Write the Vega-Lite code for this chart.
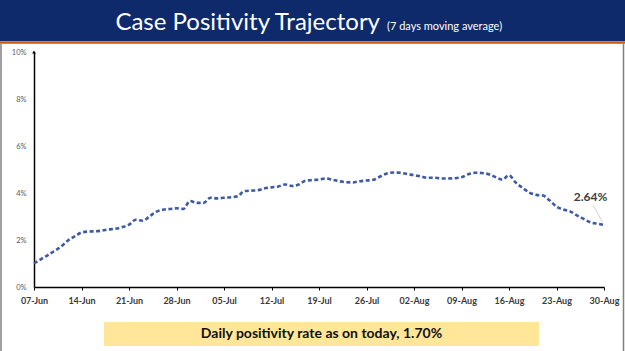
{
  "$schema": "https://vega.github.io/schema/vega-lite/v6.json",
  "autosize": "none",
  "width": 570,
  "height": 235,
  "padding": {"left": 34, "top": 52, "right": 21, "bottom": 64},
  "background": "#ffffff",
  "config": {"view": {"stroke": null}},
  "layer": [
    {
      "data": {"values": [{"title": "Case Positivity Trajectory", "sub": "(7 days moving average)"}]},
      "mark": {"type": "rect", "color": "#0E2A6B"},
      "encoding": {"x": {"value": -34}, "x2": {"value": 591}, "y": {"value": -52}, "y2": {"value": -11}}
    },
    {
      "data": {"values": [{"title": "Case Positivity Trajectory"}]},
      "mark": {"type": "rule", "color": "#C55A11", "strokeWidth": 2.5},
      "encoding": {"x": {"value": -34}, "x2": {"value": 591}, "y": {"value": -9.5}}
    },
    {
      "data": {"values": [{"title": "frame"}]},
      "mark": {"type": "rule", "color": "#808080", "strokeWidth": 1.5},
      "encoding": {"x": {"value": -33}, "y": {"value": -8}, "y2": {"value": 299}}
    },
    {
      "data": {"values": [{"title": "frame"}]},
      "mark": {"type": "rule", "color": "#808080", "strokeWidth": 1.5},
      "encoding": {"x": {"value": 589.5}, "y": {"value": -8}, "y2": {"value": 299}}
    },
    {
      "data": {"values": [{"title": "Case Positivity Trajectory"}]},
      "mark": {"type": "text", "align": "right", "baseline": "alphabetic", "font": "Lato", "fontSize": 24, "color": "#ffffff"},
      "encoding": {"text": {"field": "title"}, "x": {"value": 346}, "y": {"value": -22}}
    },
    {
      "data": {"values": [{"sub": "(7 days moving average)"}]},
      "mark": {"type": "text", "align": "left", "baseline": "alphabetic", "font": "Lato", "fontSize": 11, "color": "#ffffff"},
      "encoding": {"text": {"field": "sub"}, "x": {"value": 353}, "y": {"value": -22}}
    },
    {
      "data": {"values": [{"note": "Daily positivity rate as on today, 1.70%"}]},
      "mark": {"type": "rect", "color": "#FFE699"},
      "encoding": {"x": {"value": 70}, "x2": {"value": 505}, "y": {"value": 270}, "y2": {"value": 294}}
    },
    {
      "data": {"values": [{"note": "Daily positivity rate as on today, 1.70%"}]},
      "mark": {"type": "text", "align": "center", "baseline": "middle", "font": "Lato", "fontSize": 14, "fontWeight": "bold", "color": "#111111"},
      "encoding": {"text": {"field": "note"}, "x": {"value": 287.5}, "y": {"value": 282}}
    },
    {
      "data": {
        "format": {"parse": {"date": "date:'%Y-%m-%d'"}},
        "values": [
          {"date": "2020-06-07", "rate": 1.00}, {"date": "2020-06-08", "rate": 1.18}, {"date": "2020-06-09", "rate": 1.35},
          {"date": "2020-06-10", "rate": 1.53}, {"date": "2020-06-11", "rate": 1.72}, {"date": "2020-06-12", "rate": 1.98},
          {"date": "2020-06-13", "rate": 2.15}, {"date": "2020-06-14", "rate": 2.32}, {"date": "2020-06-15", "rate": 2.36},
          {"date": "2020-06-16", "rate": 2.37}, {"date": "2020-06-17", "rate": 2.40}, {"date": "2020-06-18", "rate": 2.45},
          {"date": "2020-06-19", "rate": 2.48}, {"date": "2020-06-20", "rate": 2.55}, {"date": "2020-06-21", "rate": 2.65},
          {"date": "2020-06-22", "rate": 2.86}, {"date": "2020-06-23", "rate": 2.82}, {"date": "2020-06-24", "rate": 3.00},
          {"date": "2020-06-25", "rate": 3.20}, {"date": "2020-06-26", "rate": 3.29}, {"date": "2020-06-27", "rate": 3.32},
          {"date": "2020-06-28", "rate": 3.35}, {"date": "2020-06-29", "rate": 3.32}, {"date": "2020-06-30", "rate": 3.66},
          {"date": "2020-07-01", "rate": 3.58}, {"date": "2020-07-02", "rate": 3.58}, {"date": "2020-07-03", "rate": 3.80},
          {"date": "2020-07-04", "rate": 3.77}, {"date": "2020-07-05", "rate": 3.80}, {"date": "2020-07-06", "rate": 3.82},
          {"date": "2020-07-07", "rate": 3.86}, {"date": "2020-07-08", "rate": 4.08}, {"date": "2020-07-09", "rate": 4.10},
          {"date": "2020-07-10", "rate": 4.12}, {"date": "2020-07-11", "rate": 4.20}, {"date": "2020-07-12", "rate": 4.24},
          {"date": "2020-07-13", "rate": 4.28}, {"date": "2020-07-14", "rate": 4.36}, {"date": "2020-07-15", "rate": 4.30},
          {"date": "2020-07-16", "rate": 4.36}, {"date": "2020-07-17", "rate": 4.52}, {"date": "2020-07-18", "rate": 4.55},
          {"date": "2020-07-19", "rate": 4.57}, {"date": "2020-07-20", "rate": 4.62}, {"date": "2020-07-21", "rate": 4.56},
          {"date": "2020-07-22", "rate": 4.50}, {"date": "2020-07-23", "rate": 4.46}, {"date": "2020-07-24", "rate": 4.45},
          {"date": "2020-07-25", "rate": 4.50}, {"date": "2020-07-26", "rate": 4.53}, {"date": "2020-07-27", "rate": 4.56},
          {"date": "2020-07-28", "rate": 4.70}, {"date": "2020-07-29", "rate": 4.83}, {"date": "2020-07-30", "rate": 4.87},
          {"date": "2020-07-31", "rate": 4.86}, {"date": "2020-08-01", "rate": 4.81}, {"date": "2020-08-02", "rate": 4.76},
          {"date": "2020-08-03", "rate": 4.70}, {"date": "2020-08-04", "rate": 4.65}, {"date": "2020-08-05", "rate": 4.65},
          {"date": "2020-08-06", "rate": 4.62}, {"date": "2020-08-07", "rate": 4.62}, {"date": "2020-08-08", "rate": 4.63},
          {"date": "2020-08-09", "rate": 4.67}, {"date": "2020-08-10", "rate": 4.80}, {"date": "2020-08-11", "rate": 4.86},
          {"date": "2020-08-12", "rate": 4.85}, {"date": "2020-08-13", "rate": 4.80}, {"date": "2020-08-14", "rate": 4.68},
          {"date": "2020-08-15", "rate": 4.57}, {"date": "2020-08-16", "rate": 4.75}, {"date": "2020-08-17", "rate": 4.44},
          {"date": "2020-08-18", "rate": 4.22}, {"date": "2020-08-19", "rate": 4.02}, {"date": "2020-08-20", "rate": 3.92},
          {"date": "2020-08-21", "rate": 3.89}, {"date": "2020-08-22", "rate": 3.68}, {"date": "2020-08-23", "rate": 3.42},
          {"date": "2020-08-24", "rate": 3.30}, {"date": "2020-08-25", "rate": 3.22}, {"date": "2020-08-26", "rate": 3.05},
          {"date": "2020-08-27", "rate": 2.90}, {"date": "2020-08-28", "rate": 2.75}, {"date": "2020-08-29", "rate": 2.70},
          {"date": "2020-08-30", "rate": 2.64}
        ]
      },
      "mark": {"type": "line", "color": "#3D5AA3", "strokeWidth": 2.6, "strokeDash": [4, 2.5], "interpolate": "monotone"},
      "encoding": {
        "x": {
          "field": "date", "type": "temporal",
          "scale": {"nice": false},
          "axis": {
            "title": null, "grid": false, "format": "%d-%b",
            "tickCount": {"interval": "week", "step": 1},
            "domainColor": "#000000", "domainWidth": 1.5,
            "tickColor": "#000000", "tickSize": 3, "tickWidth": 1,
            "labelFont": "Lato", "labelFontSize": 9, "labelFontWeight": "bold", "labelColor": "#3a3a3a",
            "labelPadding": 6, "labelOverlap": false, "labelFlush": false
          }
        },
        "y": {
          "field": "rate", "type": "quantitative",
          "scale": {"domain": [0, 10], "nice": false},
          "axis": {
            "title": null, "grid": false, "values": [0, 2, 4, 6, 8, 10],
            "labelExpr": "datum.value + '%'",
            "ticks": false, "domainColor": "#000000", "domainWidth": 1.5,
            "labelFont": "Lato", "labelFontSize": 7.5, "labelColor": "#595959", "labelPadding": 8
          }
        }
      }
    },
    {
      "data": {"format": {"parse": {"date": "date:'%Y-%m-%d'"}}, "values": [{"date": "2020-06-07", "rate": 10}]},
      "mark": {"type": "point", "shape": "triangle-up", "filled": true, "size": 14, "color": "#000000", "opacity": 1},
      "encoding": {"x": {"field": "date", "type": "temporal"}, "y": {"field": "rate", "type": "quantitative"}}
    },
    {
      "data": {"format": {"parse": {"date": "date:'%Y-%m-%d'"}}, "values": [{"date": "2020-08-30", "rate": 2.64, "label": "2.64%"}]},
      "layer": [
        {
          "mark": {"type": "rule", "color": "#c8c8c8", "strokeWidth": 0.8, "xOffset": -1.5, "yOffset": -3, "x2Offset": -11, "y2Offset": -20},
          "encoding": {
            "x": {"field": "date", "type": "temporal"}, "x2": {"field": "date"},
            "y": {"field": "rate", "type": "quantitative"}, "y2": {"field": "rate"}
          }
        },
        {
          "mark": {"type": "text", "font": "Lato", "fontSize": 12, "fontWeight": "bold", "color": "#404040", "dx": -13.5, "dy": -28, "align": "center", "baseline": "middle"},
          "encoding": {
            "x": {"field": "date", "type": "temporal"},
            "y": {"field": "rate", "type": "quantitative"},
            "text": {"field": "label"}
          }
        }
      ]
    }
  ]
}
